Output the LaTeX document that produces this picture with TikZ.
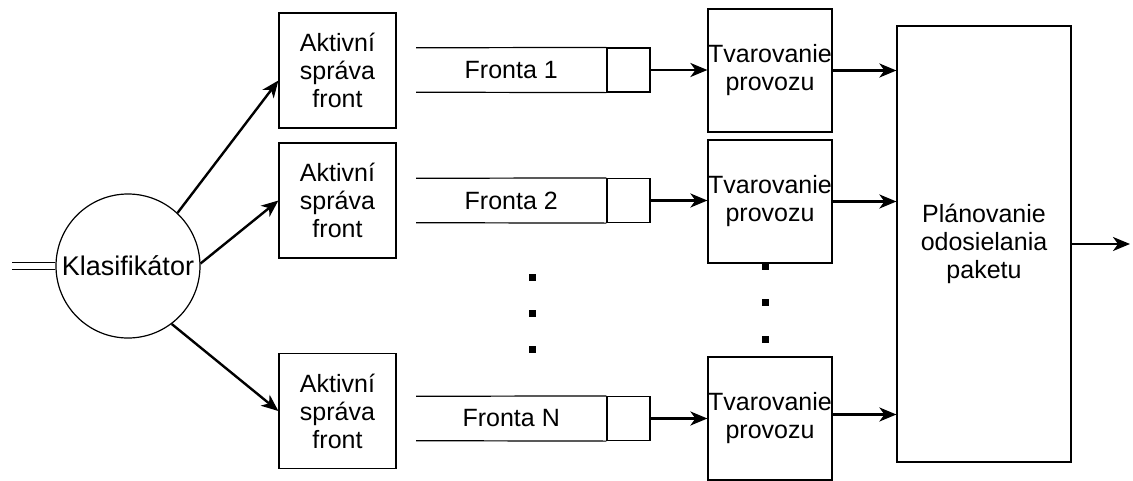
\documentclass[tikz,border=0pt]{standalone}
\usepackage{fontspec}
\setmainfont{Liberation Sans}
\usetikzlibrary{calc, positioning, arrows.meta}
\tikzset{
  font=\fontsize{25}{28}\selectfont,
  % Set arrowhead
  >={Stealth[length=17pt, width=14pt, inset=5pt]},
  % Classifier
  cnode/.style={draw, line width=1.2pt, shape=circle, minimum size=144pt,
    inner sep=0pt, font=\fontsize{27}{30}\selectfont},
  % General box
  bnode/.style={draw, line width=1.2pt, shape=rectangle, inner sep=0pt,
    align=center},
  % Queue management node
  anode/.style={bnode, minimum width=117pt, minimum height=115pt},
  % Shaper node
  snode/.style={bnode, minimum width=124pt, minimum height=123pt},
  % Scheduler node
  pnode/.style={bnode, minimum width=174pt, minimum height=436pt},
  % Queue: label part and last cell
  qlabel/.style={minimum width=190pt, minimum height=44pt, inner sep=0pt},
  qcell/.style={bnode, minimum width=43pt, minimum height=44pt},
  % Dots
  vdot/.style={fill, shape=rectangle, minimum size=7pt, inner sep=0pt},
  % Arrows
  a->/.style={->, line width=2.4pt},
  % Incoming double line
  eq-/.style={double, double distance=6pt, line width=1.2pt},
}

\begin{document}
\begin{tikzpicture}[x=1pt, y=-1pt]
  \useasboundingbox (0,0) rectangle (1133,480);

  \node[cnode] (klas) at (128,266) {Klasifikátor};
  \coordinate (src) at (12,266);
  \draw[eq-] (src) -- (klas.west);

  \node[anode] (aqm1) at (337.5,70.5) {Aktivní\\správa\\front};
  \node[anode] (aqm2) at (337.5,200.5) {Aktivní\\správa\\front};
  \node[anode] (aqm3) at (337.5,411) {Aktivní\\správa\\front};

  \draw[a->] (klas.47) -- ([yshift=-10pt]aqm1.west);
  \draw[a->] (klas.2) -- (aqm2.west);
  \draw[a->] (klas.-53) -- (aqm3.west);

  % queues
  \node[qcell] (c1) at (628.5,70) {};
  \node[qcell] (c2) at (628.5,200.5) {};
  \node[qcell] (c3) at (628.5,418.5) {};
  \node[qlabel, left=0pt of c1] (f1) {Fronta 1};
  \node[qlabel, left=0pt of c2] (f2) {Fronta 2};
  \node[qlabel, left=0pt of c3] (f3) {Fronta N};
  \draw[line width=1.2pt] (f1.north west) -- (c1.north west);
  \draw[line width=1.2pt] (f1.south west) -- (c1.south west);
  \draw[line width=1.2pt] (f2.north west) -- (c2.north west);
  \draw[line width=1.2pt] (f2.south west) -- (c2.south west);
  \draw[line width=1.2pt] (f3.north west) -- (c3.north west);
  \draw[line width=1.2pt] (f3.south west) -- (c3.south west);

  % shapers
  \node[snode] (shp1) at (770,70.5) {Tvarovanie\\provozu};
  \node[snode] (shp2) at (770,201.5) {Tvarovanie\\provozu};
  \node[snode] (shp3) at (770,418.5) {Tvarovanie\\provozu};

  \draw[a->] (c1.east) -- (c1.east -| shp1.west);
  \draw[a->] (c2.east) -- (c2.east -| shp2.west);
  \draw[a->] (c3.east) -- (c3.east -| shp3.west);

  % scheduler
  \node[pnode] (plan) at (984,244) {Plánovanie\\odosielania\\paketu};
  \coordinate (out) at (1130,244);

  \draw[a->] (shp1.east) -- (shp1.east -| plan.west);
  \draw[a->] (shp2.east) -- (shp2.east -| plan.west);
  \draw[a->] ([yshift=4pt]shp3.east) -- ([yshift=4pt]shp3.east -| plan.west);
  \draw[a->] (plan.east) -- (out);

  % dots
  \node[vdot] (d1) at (532,277) {};
  \node[vdot] (d2) at (532,313) {};
  \node[vdot] (d3) at (532,349) {};
  \node[vdot] (d4) at (765,266) {};
  \node[vdot] (d5) at (765,302) {};
  \node[vdot] (d6) at (765,339) {};
\end{tikzpicture}
\end{document}
